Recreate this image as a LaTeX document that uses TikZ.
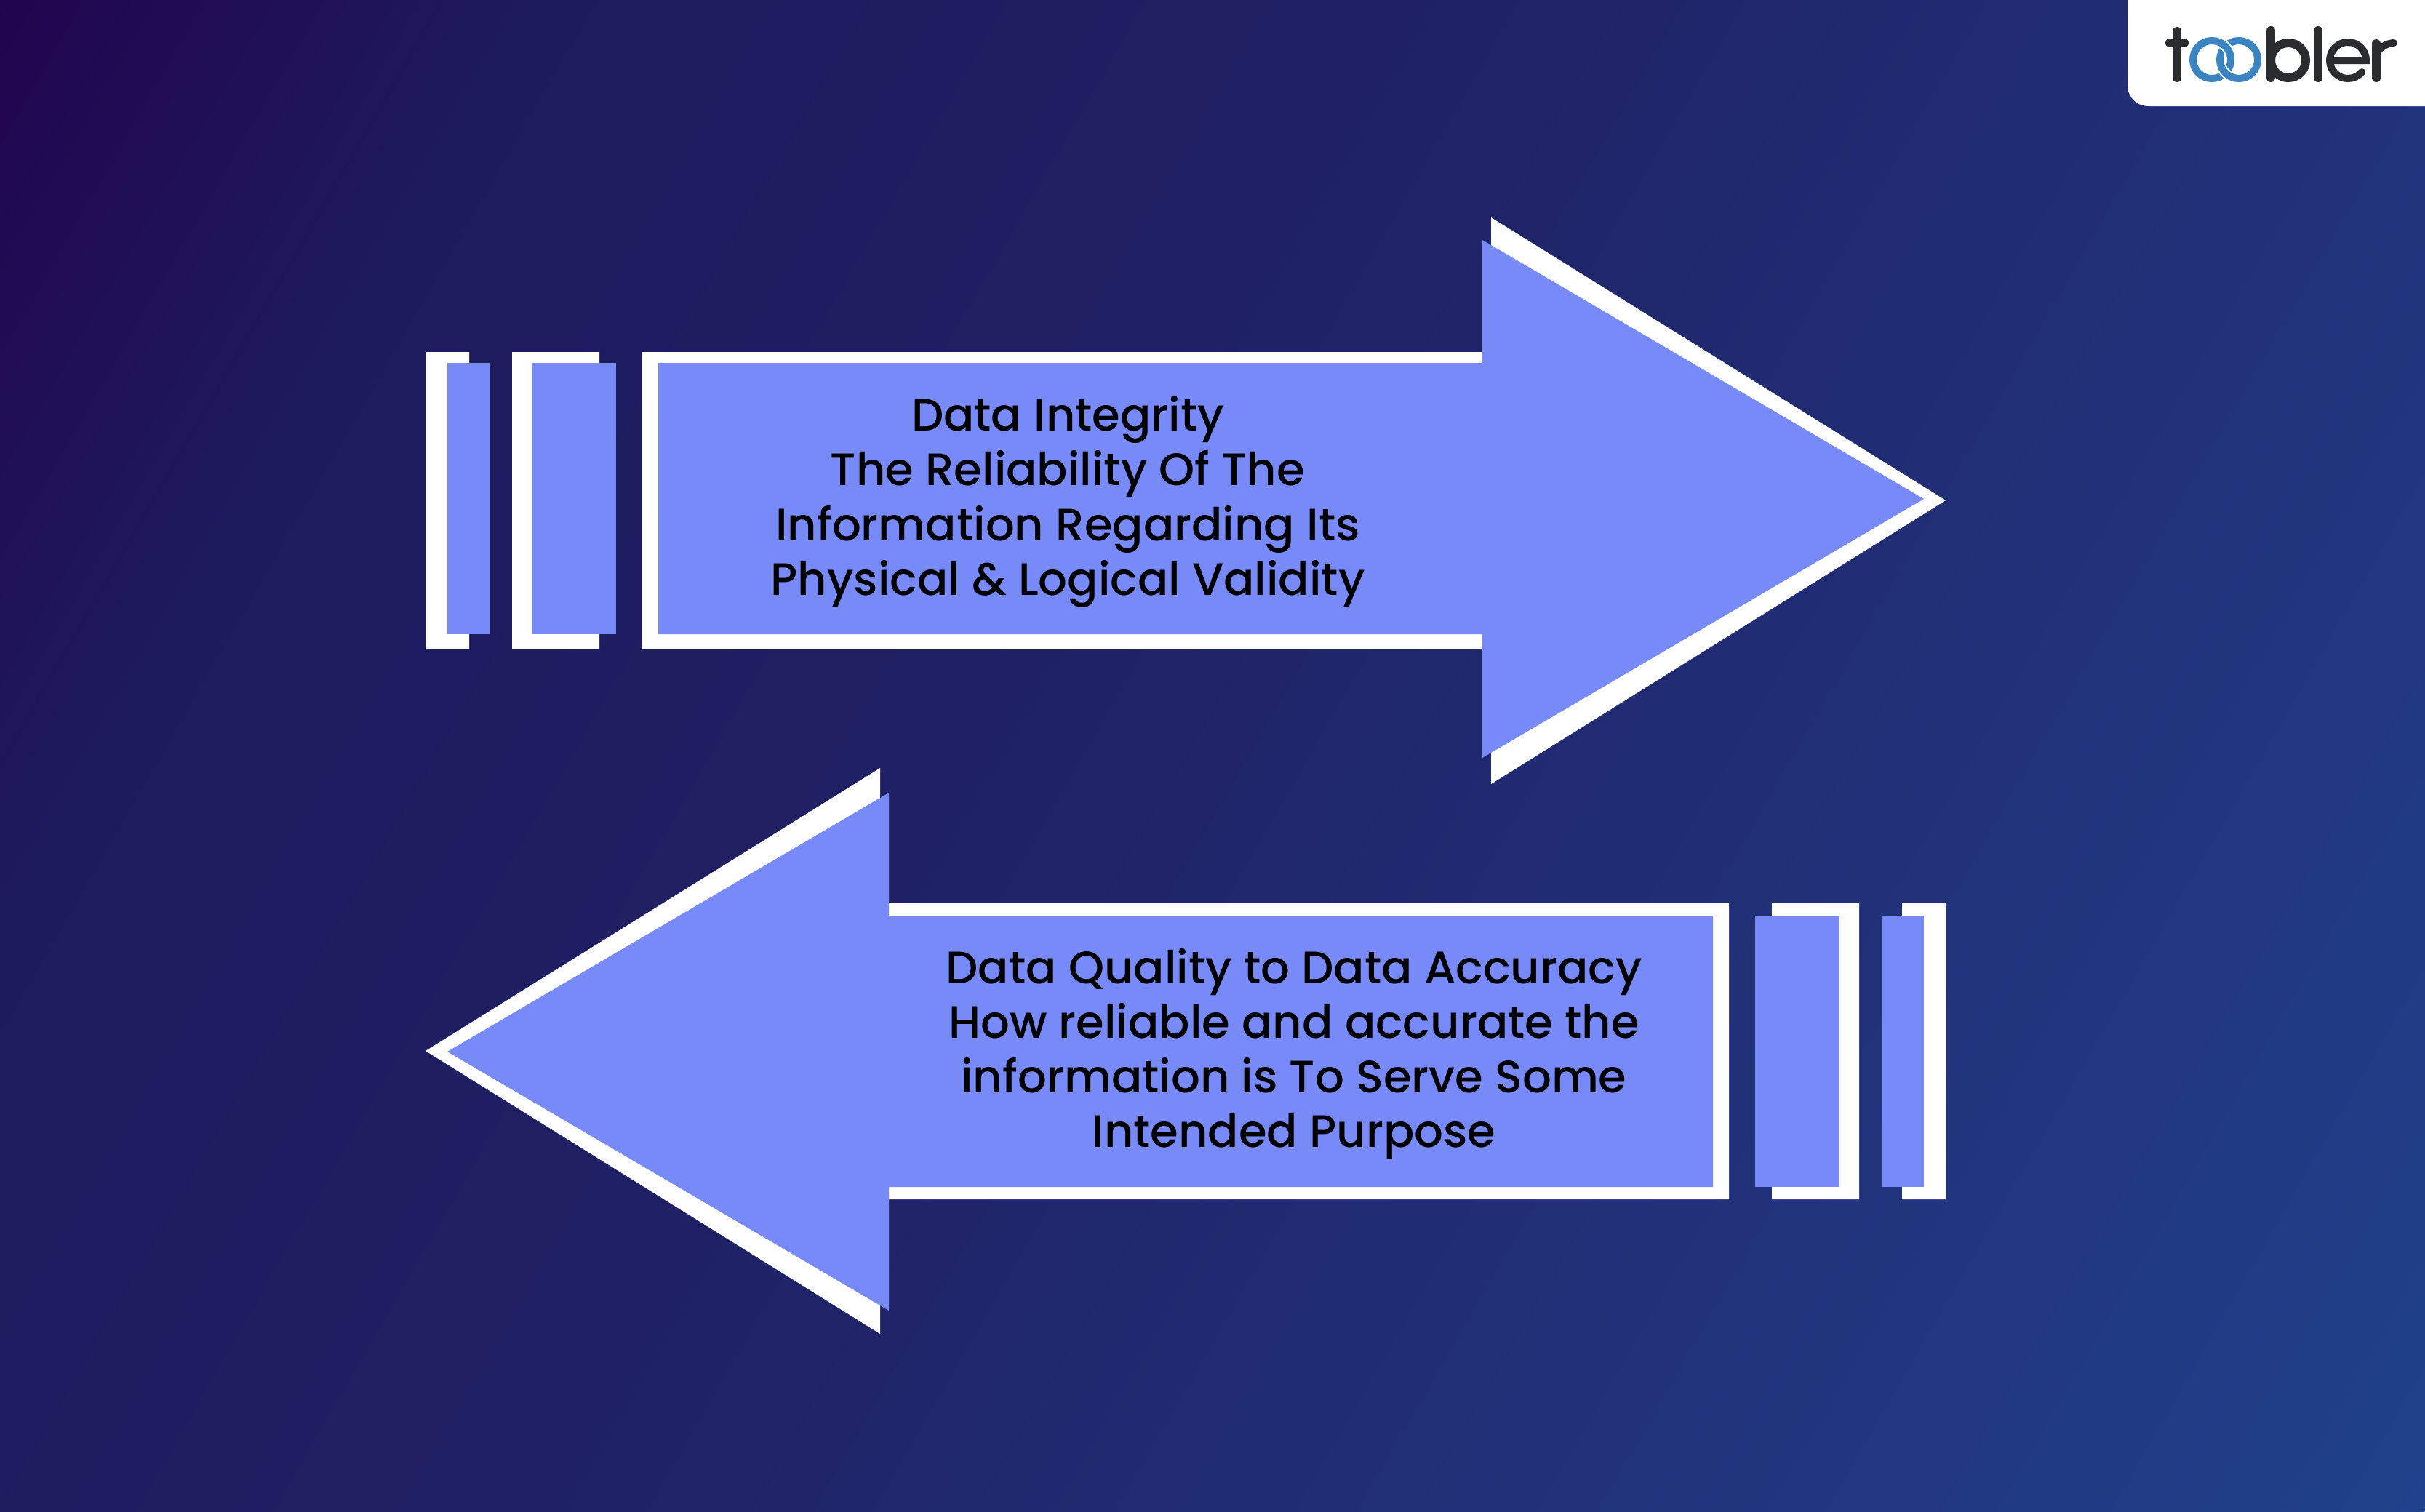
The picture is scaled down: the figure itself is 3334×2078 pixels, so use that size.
\documentclass[tikz,border=0pt]{standalone}
\usepackage{fontspec}
\setmainfont{Poppins}[UprightFont=* Medium]
\definecolor{bgA}{HTML}{21044F}
\definecolor{bgB}{HTML}{1E1A5E}
\definecolor{bgC}{HTML}{1F2063}
\definecolor{bgD}{HTML}{21327A}
\definecolor{bgE}{HTML}{20418B}
\pgfdeclarehorizontalshading{bggrad}{100bp}{color(0bp)=(bgA); color(25bp)=(bgA); color(33bp)=(bgB); color(45.5bp)=(bgC); color(62bp)=(bgD); color(75bp)=(bgE); color(100bp)=(bgE)}
\definecolor{fillblue}{HTML}{788AF8}
\definecolor{logoblue}{HTML}{3A84C1}
\definecolor{logodark}{HTML}{2B2C2E}
\tikzset{
  x=1pt,y=-1pt,
  frame/.style={fill=white,draw=none},
  panel/.style={fill=fillblue,draw=none},
  label/.style={align=center,text=black,font=\fontsize{62.5}{75.2}\selectfont,inner sep=0pt},
  inkdark/.style={draw=logodark,line width=12pt,line cap=round,fill=none},
  inkblue/.style={draw=logoblue,line width=10pt,fill=none},
  inkgap/.style={draw=white,line width=14pt,fill=none}
}
\begin{document}
\begin{tikzpicture}
\useasboundingbox (0,0) rectangle (3334,2078);
\begin{scope}
\clip (0,0) rectangle (3334,2078);
\begin{scope}[transform canvas={rotate around={-30:(1667,1039)}}]
\shade[shading=bggrad] (-296,-2000) rectangle (3630,4078);
\end{scope}
\end{scope}
% top arrow
\fill[frame] (585,484) -- (645,484) -- (645,499) -- (615,499) -- (615,872) -- (645,872) -- (645,892) -- (585,892) -- cycle;
\fill[panel] (615,499) rectangle (673,872);
\fill[frame] (704,484) -- (824,484) -- (824,499) -- (731,499) -- (731,872) -- (824,872) -- (824,892) -- (704,892) -- cycle;
\fill[panel] (731,499) rectangle (847,872);
\fill[frame] (883,484) -- (2050,484) -- (2050,299) -- (2675,688) -- (2050,1078) -- (2050,892) -- (883,892) -- cycle;
\fill[panel] (905,499) -- (2038,499) -- (2038,330) -- (2645,686) -- (2038,1042) -- (2038,872) -- (905,872) -- cycle;
\node[label] (t1) at (1468,690) {Data Integrity\\The Reliability Of The\\Information Regarding Its\\Physical \& Logical Validity};
% bottom arrow
\fill[frame] (2675,1241) -- (2615,1241) -- (2615,1259) -- (2645,1259) -- (2645,1632) -- (2615,1632) -- (2615,1649) -- (2675,1649) -- cycle;
\fill[panel] (2587,1259) rectangle (2645,1632);
\fill[frame] (2556,1241) -- (2436,1241) -- (2436,1259) -- (2529,1259) -- (2529,1632) -- (2436,1632) -- (2436,1649) -- (2556,1649) -- cycle;
\fill[panel] (2413,1259) rectangle (2529,1632);
\fill[frame] (2377,1241) -- (1210,1241) -- (1210,1056) -- (585,1445) -- (1210,1834) -- (1210,1649) -- (2377,1649) -- cycle;
\fill[panel] (2355,1259) -- (1222,1259) -- (1222,1090) -- (615,1446) -- (1222,1802) -- (1222,1632) -- (2355,1632) -- cycle;
\node[label] (t2) at (1779,1449) {Data Quality to Data Accuracy\\How reliable and accurate the\\information is To Serve Some\\Intended Purpose};
% logo
\fill[white] (3334,0) -- (2925,0) -- (2925,116) .. controls (2925,134) and (2937,146) .. (2955,146) -- (3334,146) -- cycle;
\draw[inkdark] (2993,43) -- (2993,107);
\draw[inkdark] (2983,59) -- (3003,59);
\draw[inkblue] (3041,82) circle[radius=26];
\draw[inkblue] (3078,82) circle[radius=26];
\draw[inkgap] (3041,82) ++(-75:26) arc[start angle=-75,end angle=-15,radius=26];
\draw[inkblue] (3041,82) ++(-80:26) arc[start angle=-80,end angle=-10,radius=26];
\draw[inkgap] (3078,82) ++(105:26) arc[start angle=105,end angle=165,radius=26];
\draw[inkblue] (3078,82) ++(100:26) arc[start angle=100,end angle=170,radius=26];
\draw[inkdark] (3122,42) -- (3122,107);
\draw[inkdark] (3146,83) circle[radius=24];
\draw[inkdark] (3187,42) -- (3187,107);
\draw[inkdark,line width=10pt] (3203,83) -- (3253,83) arc[start angle=0,end angle=-320,radius=25];
\draw[inkdark] (3267,60) -- (3267,107);
\draw[inkdark,line width=10pt] (3267,74) .. controls (3272,65) and (3280,60) .. (3291,59);
\end{tikzpicture}
\end{document}
